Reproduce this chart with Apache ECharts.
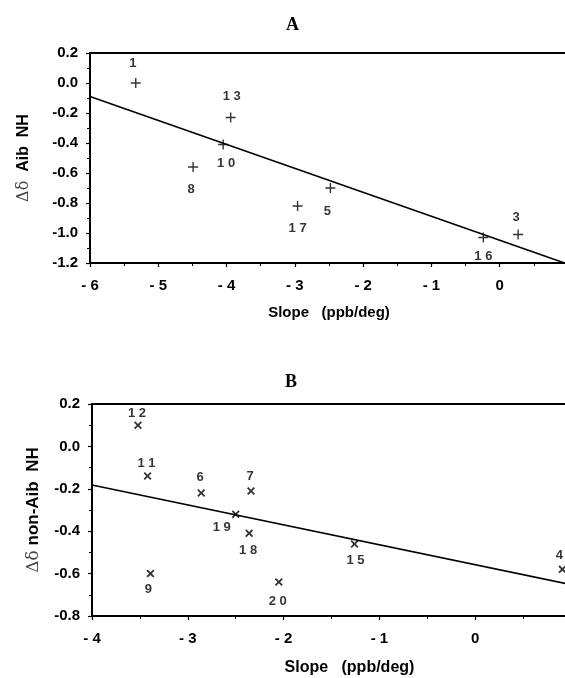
<!DOCTYPE html>
<html>
<head>
<meta charset="utf-8">
<script src="https://cdn.jsdelivr.net/npm/echarts@6/dist/echarts.min.js"></script>
<style>
  html, body { margin: 0; padding: 0; background: #fff; }
  #chart { width: 565px; height: 678px; }
</style>
</head>
<body>
<div id="chart"></div>
<script>
// panel A: Aib NH
var aSlope = [-5.33, -3.94, -4.05, -4.49, -2.96, -2.48, -0.24, 0.27];
var aShift = [0.0, -0.23, -0.41, -0.56, -0.82, -0.70, -1.03, -1.01];
var aIds = ['1', '1 3', '1 0', '8', '1 7', '5', '1 6', '3'];
var aFitX = [-6, 0.95];
var aFitY = [-0.09, -1.2];

// panel B: non-Aib NH
var bSlope = [-3.52, -3.42, -2.86, -2.34, -2.50, -2.36, -3.39, -2.05, -1.26, 0.91];
var bShift = [0.10, -0.14, -0.22, -0.21, -0.32, -0.41, -0.60, -0.64, -0.46, -0.58];
var bIds = ['1 2', '1 1', '6', '7', '1 9', '1 8', '9', '2 0', '1 5', '4'];
var bFitX = [-4, 1];
var bFitY = [-0.182, -0.652];

// where each number sits relative to its marker
var aLabelOff = [[-3, -20], [1, -21], [3, 19], [-2, 22], [0, 22], [-3, 23], [0, 19], [-2, -17]];
var bLabelOff = [[-1, -12], [-1, -13], [-1, -16], [-1, -14], [-14, 13], [-1, 17], [-2, 16], [-1, 19], [1, 17], [-3, -14]];

var plus = 'path://M4,0h1.3v4h4v1.3h-4v4h-1.3v-4h-4v-1.3h4z';
var cross = 'path://M0,1.6L1.6,0L5,3.4L8.4,0L10,1.6L6.6,5L10,8.4L8.4,10L5,6.6L1.6,10L0,8.4L3.4,5Z';

var sans = 'Liberation Sans';

function pts(xs, ys, ids, offs) {
  return xs.map(function (x, i) {
    return { value: [x, ys[i]], name: ids[i], label: { offset: offs[i] } };
  });
}

function line(xs, ys) {
  return xs.map(function (x, i) { return [x, ys[i]]; });
}

function xFmt(v) {
  if (v > 0.5) return '';
  if (v < 0) return '- ' + Math.abs(v);
  return '0';
}

function yFmt(v) {
  return Math.abs(v) < 1e-9 ? '0.0' : v.toFixed(1);
}

var axisCommon = {
  axisLine: { show: true, onZero: false, lineStyle: { color: '#000', width: 2 } },
  axisTick: { show: true, length: 4, lineStyle: { color: '#000', width: 1.2 } },
  minorTick: { show: true, splitNumber: 2, length: 3, lineStyle: { color: '#000', width: 1 } },
  splitLine: { show: false },
  axisLabel: { color: '#000', fontFamily: sans, fontWeight: 'bold', fontSize: 15 }
};

function xAxis(grid, min, max, gap, size, pad) {
  return Object.assign({}, axisCommon, {
    type: 'value', gridIndex: grid, min: min, max: max, interval: 1,
    name: 'Slope   (ppb/deg)', nameLocation: 'middle', nameGap: gap,
    nameTextStyle: { color: '#000', fontFamily: sans, fontWeight: 'bold', fontSize: size, padding: pad },
    axisLabel: Object.assign({}, axisCommon.axisLabel, { margin: 15, formatter: xFmt })
  });
}

function yAxis(grid, min, max, name, gap, size) {
  return Object.assign({}, axisCommon, {
    type: 'value', gridIndex: grid, min: min, max: max, interval: 0.2,
    name: name, nameLocation: 'middle', nameGap: gap,
    nameTextStyle: {
      color: '#000', fontFamily: sans, fontWeight: 'bold', fontSize: size,
      rich: { d: { fontFamily: 'DejaVu Serif', fontWeight: 'normal', fontSize: size, color: '#444' } }
    },
    axisLabel: Object.assign({}, axisCommon.axisLabel, { margin: 12, formatter: yFmt })
  });
}

function scatter(idx, data, sym, size) {
  return {
    type: 'scatter', xAxisIndex: idx, yAxisIndex: idx, data: data,
    symbol: sym, symbolSize: size,
    itemStyle: { color: '#000' },
    label: {
      show: true, position: 'inside', formatter: '{b}',
      color: '#000', fontFamily: sans, fontWeight: 'bold', fontSize: 13
    },
    silent: true
  };
}

function fit(idx, data) {
  return {
    type: 'line', xAxisIndex: idx, yAxisIndex: idx, data: data,
    symbol: 'none', lineStyle: { color: '#000', width: 1.6 }, silent: true
  };
}

var chart = echarts.init(document.getElementById('chart'), null, { renderer: 'canvas' });

chart.setOption({
  backgroundColor: '#fff',
  animation: false,
  title: [
    { text: 'A', left: 281, top: 11, textStyle: { fontFamily: 'Liberation Serif', fontWeight: 'bold', fontSize: 18, color: '#000' } },
    { text: 'B', left: 280, top: 368, textStyle: { fontFamily: 'Liberation Serif', fontWeight: 'bold', fontSize: 18, color: '#000' } }
  ],
  grid: [
    { left: 90, top: 53, width: 478, height: 210, show: true, borderColor: '#000', borderWidth: 2, outerBoundsMode: 'none' },
    { left: 92, top: 404, width: 479, height: 212, show: true, borderColor: '#000', borderWidth: 2, outerBoundsMode: 'none' }
  ],
  xAxis: [
    xAxis(0, -6, 1, 42, 15, [0, 0, 0, 0]),
    xAxis(1, -4, 1, 44, 16, [0, 0, 0, 36])
  ],
  yAxis: [
    yAxis(0, -1.2, 0.2, '{d|Δδ}  Aib  NH', 58, 16),
    yAxis(1, -0.8, 0.2, '{d|Δδ} non-Aib  NH', 50, 17)
  ],
  series: [
    fit(0, line(aFitX, aFitY)),
    scatter(0, pts(aSlope, aShift, aIds, aLabelOff), plus, 10),
    fit(1, line(bFitX, bFitY)),
    scatter(1, pts(bSlope, bShift, bIds, bLabelOff), cross, 8)
  ]
});

window.addEventListener('resize', chart.resize);
</script>
</body>
</html>
